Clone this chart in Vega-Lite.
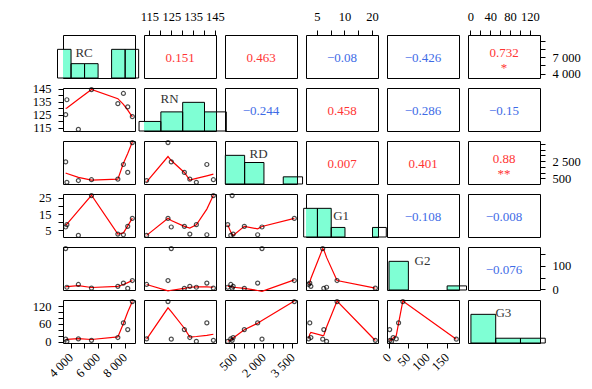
{
"$schema":"https://vega.github.io/schema/vega-lite/v6.json",
"background":"white",
"padding":{"left":31,"top":9,"right":5,"bottom":5},
"config":{
 "font":"Liberation Serif",
 "view":{"stroke":"black","strokeWidth":1},
 "axis":{"domain":false,"grid":false,"ticks":true,"tickColor":"black","tickSize":5,"tickWidth":1,"labelFont":"Liberation Serif","labelFontSize":12.5,"labelColor":"black","labelPadding":7,"labelOverlap":false,"labelFlush":false,"labelBound":false},
 "text":{"font":"Liberation Serif","fontSize":13}
},
"datasets":{
 "d":[
  {"RC":3640,"RN":125.0,"RD":1925,"G1":7.1,"G2":175,"G3":8,"RN_RC":129.7,"RD_RC":950,"G1_RC":8.2,"G2_RC":10,"G3_RC":7,"RD_RN":2045,"G1_RN":11,"G1_RD":7.4,"G2_RN":-5,"G2_RD":-10,"G2_G1":175,"G3_RN":101,"G3_RD":71,"G3_G1":20,"G3_G2":8},
  {"RC":3730,"RN":136.5,"RD":150,"G1":8.5,"G2":8,"G3":0.5,"RN_RC":130.2,"RD_RC":920,"G1_RC":8.9,"G2_RC":11,"G3_RC":7.5,"RD_RN":490,"G1_RN":8.5,"G1_RD":8.5,"G2_RN":10,"G2_RD":12,"G2_G1":137,"G3_RN":17,"G3_RD":1,"G3_G1":49,"G3_G2":5},
  {"RC":4580,"RN":113.7,"RD":310,"G1":2.0,"G2":20,"G3":9,"RN_RC":136.8,"RD_RC":580,"G1_RC":17,"G2_RC":15,"G3_RC":10,"RD_RN":199,"G1_RN":2.0,"G1_RD":4,"G2_RN":20,"G2_RD":12,"G2_G1":20,"G3_RN":8,"G3_RD":5,"G3_G1":11,"G3_G2":20},
  {"RC":5550,"RN":144.3,"RD":380,"G1":26.2,"G2":4,"G3":4,"RN_RC":144.4,"RD_RC":345,"G1_RC":26.4,"G2_RC":7,"G3_RC":7,"RD_RN":863,"G1_RN":26.4,"G1_RD":2.5,"G2_RN":8,"G2_RD":10,"G2_G1":4,"G3_RN":24.6,"G3_RD":8,"G3_G1":3.5,"G3_G2":5},
  {"RC":7500,"RN":133.5,"RD":431,"G1":2.8,"G2":12,"G3":13.6,"RN_RC":137.3,"RD_RC":431,"G1_RC":2.8,"G2_RC":12,"G3_RC":15.6,"RD_RN":345,"G1_RN":6.5,"G1_RD":2,"G2_RN":8,"G2_RD":8,"G2_G1":46,"G3_RN":15,"G3_RD":12,"G3_G1":31,"G3_G2":12},
  {"RC":7910,"RN":141.3,"RD":1700,"G1":2.4,"G2":26,"G3":63,"RN_RC":133,"RD_RC":1810,"G1_RC":3.5,"G2_RC":20,"G3_RC":61,"RD_RN":716,"G1_RN":18,"G1_RD":6,"G2_RN":10,"G2_RD":-6,"G2_G1":27,"G3_RN":21,"G3_RD":62,"G3_G1":25,"G3_G2":62},
  {"RC":8230,"RN":131,"RD":1010,"G1":7.5,"G2":3,"G3":40.5,"RN_RC":128.5,"RD_RC":2650,"G1_RC":7.8,"G2_RC":28,"G3_RC":100,"RD_RN":1010,"G1_RN":7.5,"G1_RD":7.5,"G2_RN":3,"G2_RD":3,"G2_G1":170,"G3_RN":45,"G3_RD":40,"G3_G1":21,"G3_G2":11},
  {"RC":8570,"RN":123.5,"RD":3600,"G1":12.3,"G2":37,"G3":135,"RN_RC":123.4,"RD_RC":3650,"G1_RC":12.5,"G2_RC":37,"G3_RC":135,"RD_RN":2390,"G1_RN":12.4,"G1_RD":12.4,"G2_RN":-8,"G2_RD":40,"G2_G1":37,"G3_RN":114,"G3_RD":137,"G3_G1":137,"G3_G2":137}
 ],
 "cor":[
  {"p":"RC_RN","r":"0.151","s":"","sg":"pos"},
  {"p":"RC_RD","r":"0.463","s":"","sg":"pos"},
  {"p":"RC_G1","r":"−0.08","s":"","sg":"neg"},
  {"p":"RC_G2","r":"−0.426","s":"","sg":"neg"},
  {"p":"RC_G3","r":"0.732","s":"*","sg":"pos"},
  {"p":"RN_RD","r":"−0.244","s":"","sg":"neg"},
  {"p":"RN_G1","r":"0.458","s":"","sg":"pos"},
  {"p":"RN_G2","r":"−0.286","s":"","sg":"neg"},
  {"p":"RN_G3","r":"−0.15","s":"","sg":"neg"},
  {"p":"RD_G1","r":"0.007","s":"","sg":"pos"},
  {"p":"RD_G2","r":"0.401","s":"","sg":"pos"},
  {"p":"RD_G3","r":"0.88","s":"**","sg":"pos"},
  {"p":"G1_G2","r":"−0.108","s":"","sg":"neg"},
  {"p":"G1_G3","r":"−0.008","s":"","sg":"neg"},
  {"p":"G2_G3","r":"−0.076","s":"","sg":"neg"}
 ],
 "vars":[{"v":"RC"},{"v":"RN"},{"v":"RD"},{"v":"G1"},{"v":"G2"},{"v":"G3"}]
},
"columns":6,
"spacing":{"row":10,"column":9},
"bounds":"flush",
"concat":[
 {"width":72,"height":43,"data":{"name":"d"},"layer":[
  {"mark":{"type":"bar","fill":"#7fffd4","strokeWidth":0,"binSpacing":0,"clip":true},"encoding":{"x":{"field":"RC","type":"quantitative","bin":{"extent":[3000,9000],"step":1000},"scale":{"domain":[3443,8767],"nice":false,"zero":false},"axis":null},"y":{"aggregate":"count","type":"quantitative","scale":{"domain":[0,3],"nice":false},"axis":null}}},
  {"mark":{"type":"bar","fillOpacity":0,"stroke":"black","strokeWidth":1,"binSpacing":0,"clip":false},"encoding":{"x":{"field":"RC","type":"quantitative","bin":{"extent":[3000,9000],"step":1000},"scale":{"domain":[3443,8767],"nice":false,"zero":false},"axis":null},"y":{"aggregate":"count","type":"quantitative","scale":{"domain":[0,3],"nice":false},"axis":null}}},
  {"data":{"name":"vars"},"transform":[{"filter":"datum.v == 'RC'"}],"mark":{"type":"text","fontSize":13,"color":"#333"},"encoding":{"x":{"datum":5000,"type":"quantitative"},"y":{"datum":1.72,"type":"quantitative"},"text":{"field":"v","type":"nominal"}}}
 ]},
 {"width":72,"height":43,"data":{"name":"cor"},"transform":[{"filter":"datum.p == 'RC_RN'"}],"mark":{"type":"text","fontSize":13,"dy":1},"encoding":{"x":{"datum":129,"type":"quantitative","scale":{"domain":[112.5,145.5],"nice":false,"zero":false},"axis":{"orient":"top","title":null,"values":[115,120,125,130,135,140,145],"labelExpr":"datum.value % 10 == 5 ? datum.label : ''"}},"y":{"datum":6105,"type":"quantitative","scale":{"domain":[3443,8767],"nice":false,"zero":false},"axis":null},"text":{"field":"r","type":"nominal"},"color":{"field":"sg","type":"nominal","scale":{"domain":["pos","neg"],"range":["#ff3434","#3e6be6"]},"legend":null}}},
 {"width":72,"height":43,"data":{"name":"cor"},"transform":[{"filter":"datum.p == 'RC_RD'"}],"mark":{"type":"text","fontSize":13,"dy":1},"encoding":{"x":{"datum":0.5,"type":"quantitative","scale":{"domain":[0,1]},"axis":null},"y":{"datum":0.5,"type":"quantitative","scale":{"domain":[0,1]},"axis":null},"text":{"field":"r","type":"nominal"},"color":{"field":"sg","type":"nominal","scale":{"domain":["pos","neg"],"range":["#ff3434","#3e6be6"]},"legend":null}}},
 {"width":72,"height":43,"data":{"name":"cor"},"transform":[{"filter":"datum.p == 'RC_G1'"}],"mark":{"type":"text","fontSize":13,"dy":1},"encoding":{"x":{"datum":14.1,"type":"quantitative","scale":{"domain":[1.03,27.17],"nice":false,"zero":false},"axis":{"orient":"top","title":null,"values":[5,10,15,20,25],"labelExpr":"datum.value == 5 ? '5' : datum.value == 15 ? '10' : datum.value == 25 ? '20' : ''"}},"y":{"datum":0.5,"type":"quantitative","scale":{"domain":[0,1]},"axis":null},"text":{"field":"r","type":"nominal"},"color":{"field":"sg","type":"nominal","scale":{"domain":["pos","neg"],"range":["#ff3434","#3e6be6"]},"legend":null}}},
 {"width":72,"height":43,"data":{"name":"cor"},"transform":[{"filter":"datum.p == 'RC_G2'"}],"mark":{"type":"text","fontSize":13,"dy":1},"encoding":{"x":{"datum":0.5,"type":"quantitative","scale":{"domain":[0,1]},"axis":null},"y":{"datum":0.5,"type":"quantitative","scale":{"domain":[0,1]},"axis":null},"text":{"field":"r","type":"nominal"},"color":{"field":"sg","type":"nominal","scale":{"domain":["pos","neg"],"range":["#ff3434","#3e6be6"]},"legend":null}}},
 {"width":72,"height":43,"data":{"name":"cor"},"transform":[{"filter":"datum.p == 'RC_G3'"}],
  "encoding":{"x":{"datum":67.75,"type":"quantitative","scale":{"domain":[-4.9,140.4],"nice":false,"zero":false},"axis":{"orient":"top","title":null,"values":[0,20,40,60,80,100,120],"labelExpr":"datum.value % 40 == 0 ? datum.label : ''"}},"y":{"datum":6105,"type":"quantitative","scale":{"domain":[3443,8767],"nice":false,"zero":false},"axis":{"orient":"right","title":null,"values":[4000,5000,6000,7000,8000],"labelExpr":"datum.value == 4000 ? '4 000' : datum.value == 6000 ? '7 000' : ''"}},"color":{"field":"sg","type":"nominal","scale":{"domain":["pos","neg"],"range":["#ff3434","#3e6be6"]},"legend":null}},
  "layer":[
   {"mark":{"type":"text","fontSize":13,"dy":-4},"encoding":{"text":{"field":"r","type":"nominal"}}},
   {"mark":{"type":"text","fontSize":13,"dy":11},"encoding":{"text":{"field":"s","type":"nominal"}}}
  ]},

 {"width":72,"height":43,"data":{"name":"d"},"encoding":{"x":{"field":"RC","type":"quantitative","scale":{"domain":[3443,8767],"nice":false,"zero":false},"axis":null}},"layer":[
  {"mark":{"type":"line","color":"#ff0000","strokeWidth":1.2},"encoding":{"y":{"field":"RN_RC","type":"quantitative","scale":{"domain":[112.5,145.5],"nice":false,"zero":false},"axis":{"orient":"left","title":null,"values":[115,120,125,130,135,140,145],"labelExpr":"datum.value % 10 == 5 ? datum.label : ''"}}}},
  {"mark":{"type":"point","shape":"circle","color":"black","size":16,"strokeWidth":1.2},"encoding":{"y":{"field":"RN","type":"quantitative","scale":{"domain":[112.5,145.5],"nice":false,"zero":false},"axis":{"orient":"left","title":null,"values":[115,120,125,130,135,140,145],"labelExpr":"datum.value % 10 == 5 ? datum.label : ''"}}}}
 ]},
 {"width":72,"height":43,"data":{"name":"d"},"layer":[
  {"mark":{"type":"bar","fill":"#7fffd4","strokeWidth":0,"binSpacing":0,"clip":true},"encoding":{"x":{"field":"RN","type":"quantitative","bin":{"extent":[110,150],"step":10},"scale":{"domain":[112.5,145.5],"nice":false,"zero":false},"axis":null},"y":{"aggregate":"count","type":"quantitative","scale":{"domain":[0,4.5],"nice":false},"axis":null}}},
  {"mark":{"type":"bar","fillOpacity":0,"stroke":"black","strokeWidth":1,"binSpacing":0,"clip":false},"encoding":{"x":{"field":"RN","type":"quantitative","bin":{"extent":[110,150],"step":10},"scale":{"domain":[112.5,145.5],"nice":false,"zero":false},"axis":null},"y":{"aggregate":"count","type":"quantitative","scale":{"domain":[0,4.5],"nice":false},"axis":null}}},
  {"data":{"name":"vars"},"transform":[{"filter":"datum.v == 'RN'"}],"mark":{"type":"text","fontSize":13,"color":"#333"},"encoding":{"x":{"datum":124.2,"type":"quantitative"},"y":{"datum":3.3,"type":"quantitative"},"text":{"field":"v","type":"nominal"}}}
 ]},
 {"width":72,"height":43,"data":{"name":"cor"},"transform":[{"filter":"datum.p == 'RN_RD'"}],"mark":{"type":"text","fontSize":13,"dy":1},"encoding":{"x":{"datum":0.5,"type":"quantitative","scale":{"domain":[0,1]},"axis":null},"y":{"datum":0.5,"type":"quantitative","scale":{"domain":[0,1]},"axis":null},"text":{"field":"r","type":"nominal"},"color":{"field":"sg","type":"nominal","scale":{"domain":["pos","neg"],"range":["#ff3434","#3e6be6"]},"legend":null}}},
 {"width":72,"height":43,"data":{"name":"cor"},"transform":[{"filter":"datum.p == 'RN_G1'"}],"mark":{"type":"text","fontSize":13,"dy":1},"encoding":{"x":{"datum":0.5,"type":"quantitative","scale":{"domain":[0,1]},"axis":null},"y":{"datum":0.5,"type":"quantitative","scale":{"domain":[0,1]},"axis":null},"text":{"field":"r","type":"nominal"},"color":{"field":"sg","type":"nominal","scale":{"domain":["pos","neg"],"range":["#ff3434","#3e6be6"]},"legend":null}}},
 {"width":72,"height":43,"data":{"name":"cor"},"transform":[{"filter":"datum.p == 'RN_G2'"}],"mark":{"type":"text","fontSize":13,"dy":1},"encoding":{"x":{"datum":0.5,"type":"quantitative","scale":{"domain":[0,1]},"axis":null},"y":{"datum":0.5,"type":"quantitative","scale":{"domain":[0,1]},"axis":null},"text":{"field":"r","type":"nominal"},"color":{"field":"sg","type":"nominal","scale":{"domain":["pos","neg"],"range":["#ff3434","#3e6be6"]},"legend":null}}},
 {"width":72,"height":43,"data":{"name":"cor"},"transform":[{"filter":"datum.p == 'RN_G3'"}],"mark":{"type":"text","fontSize":13,"dy":1},"encoding":{"x":{"datum":0.5,"type":"quantitative","scale":{"domain":[0,1]},"axis":null},"y":{"datum":0.5,"type":"quantitative","scale":{"domain":[0,1]},"axis":null},"text":{"field":"r","type":"nominal"},"color":{"field":"sg","type":"nominal","scale":{"domain":["pos","neg"],"range":["#ff3434","#3e6be6"]},"legend":null}}},

 {"width":72,"height":43,"data":{"name":"d"},"encoding":{"x":{"field":"RC","type":"quantitative","scale":{"domain":[3443,8767],"nice":false,"zero":false},"axis":null}},"layer":[
  {"mark":{"type":"line","color":"#ff0000","strokeWidth":1.2},"encoding":{"y":{"field":"RD_RC","type":"quantitative","scale":{"domain":[9,3738],"nice":false,"zero":false},"axis":null}}},
  {"mark":{"type":"point","shape":"circle","color":"black","size":16,"strokeWidth":1.2},"encoding":{"y":{"field":"RD","type":"quantitative","scale":{"domain":[9,3738],"nice":false,"zero":false},"axis":null}}}
 ]},
 {"width":72,"height":43,"data":{"name":"d"},"encoding":{"x":{"field":"RN","type":"quantitative","scale":{"domain":[112.5,145.5],"nice":false,"zero":false},"axis":null}},"layer":[
  {"mark":{"type":"line","color":"#ff0000","strokeWidth":1.2},"encoding":{"y":{"field":"RD_RN","type":"quantitative","scale":{"domain":[9,3738],"nice":false,"zero":false},"axis":null}}},
  {"mark":{"type":"point","shape":"circle","color":"black","size":16,"strokeWidth":1.2},"encoding":{"y":{"field":"RD","type":"quantitative","scale":{"domain":[9,3738],"nice":false,"zero":false},"axis":null}}}
 ]},
 {"width":72,"height":43,"data":{"name":"d"},"layer":[
  {"mark":{"type":"bar","fill":"#7fffd4","strokeWidth":0,"binSpacing":0,"clip":true},"encoding":{"x":{"field":"RD","type":"quantitative","bin":{"extent":[0,4000],"step":1000},"scale":{"domain":[9,3738],"nice":false,"zero":false},"axis":null},"y":{"aggregate":"count","type":"quantitative","scale":{"domain":[0,6],"nice":false},"axis":null}}},
  {"mark":{"type":"bar","fillOpacity":0,"stroke":"black","strokeWidth":1,"binSpacing":0,"clip":false},"encoding":{"x":{"field":"RD","type":"quantitative","bin":{"extent":[0,4000],"step":1000},"scale":{"domain":[9,3738],"nice":false,"zero":false},"axis":null},"y":{"aggregate":"count","type":"quantitative","scale":{"domain":[0,6],"nice":false},"axis":null}}},
  {"data":{"name":"vars"},"transform":[{"filter":"datum.v == 'RD'"}],"mark":{"type":"text","fontSize":13,"color":"#333"},"encoding":{"x":{"datum":1747,"type":"quantitative"},"y":{"datum":4.15,"type":"quantitative"},"text":{"field":"v","type":"nominal"}}}
 ]},
 {"width":72,"height":43,"data":{"name":"cor"},"transform":[{"filter":"datum.p == 'RD_G1'"}],"mark":{"type":"text","fontSize":13,"dy":1},"encoding":{"x":{"datum":0.5,"type":"quantitative","scale":{"domain":[0,1]},"axis":null},"y":{"datum":0.5,"type":"quantitative","scale":{"domain":[0,1]},"axis":null},"text":{"field":"r","type":"nominal"},"color":{"field":"sg","type":"nominal","scale":{"domain":["pos","neg"],"range":["#ff3434","#3e6be6"]},"legend":null}}},
 {"width":72,"height":43,"data":{"name":"cor"},"transform":[{"filter":"datum.p == 'RD_G2'"}],"mark":{"type":"text","fontSize":13,"dy":1},"encoding":{"x":{"datum":0.5,"type":"quantitative","scale":{"domain":[0,1]},"axis":null},"y":{"datum":0.5,"type":"quantitative","scale":{"domain":[0,1]},"axis":null},"text":{"field":"r","type":"nominal"},"color":{"field":"sg","type":"nominal","scale":{"domain":["pos","neg"],"range":["#ff3434","#3e6be6"]},"legend":null}}},
 {"width":72,"height":43,"data":{"name":"cor"},"transform":[{"filter":"datum.p == 'RD_G3'"}],
  "encoding":{"x":{"datum":0.5,"type":"quantitative","scale":{"domain":[0,1]},"axis":null},"y":{"datum":1873,"type":"quantitative","scale":{"domain":[9,3738],"nice":false,"zero":false},"axis":{"orient":"right","title":null,"values":[500,1000,1500,2000,2500,3000,3500],"labelExpr":"datum.value == 500 ? '500' : datum.value == 2000 ? '2 500' : ''"}},"color":{"field":"sg","type":"nominal","scale":{"domain":["pos","neg"],"range":["#ff3434","#3e6be6"]},"legend":null}},
  "layer":[
   {"mark":{"type":"text","fontSize":13,"dy":-4},"encoding":{"text":{"field":"r","type":"nominal"}}},
   {"mark":{"type":"text","fontSize":13,"dy":11},"encoding":{"text":{"field":"s","type":"nominal"}}}
  ]},

 {"width":72,"height":43,"data":{"name":"d"},"encoding":{"x":{"field":"RC","type":"quantitative","scale":{"domain":[3443,8767],"nice":false,"zero":false},"axis":null}},"layer":[
  {"mark":{"type":"line","color":"#ff0000","strokeWidth":1.2},"encoding":{"y":{"field":"G1_RC","type":"quantitative","scale":{"domain":[1.03,27.17],"nice":false,"zero":false},"axis":{"orient":"left","title":null,"values":[5,10,15,20,25],"labelExpr":"datum.value % 10 == 5 ? datum.label : ''"}}}},
  {"mark":{"type":"point","shape":"circle","color":"black","size":16,"strokeWidth":1.2},"encoding":{"y":{"field":"G1","type":"quantitative","scale":{"domain":[1.03,27.17],"nice":false,"zero":false},"axis":{"orient":"left","title":null,"values":[5,10,15,20,25],"labelExpr":"datum.value % 10 == 5 ? datum.label : ''"}}}}
 ]},
 {"width":72,"height":43,"data":{"name":"d"},"encoding":{"x":{"field":"RN","type":"quantitative","scale":{"domain":[112.5,145.5],"nice":false,"zero":false},"axis":null}},"layer":[
  {"mark":{"type":"line","color":"#ff0000","strokeWidth":1.2},"encoding":{"y":{"field":"G1_RN","type":"quantitative","scale":{"domain":[1.03,27.17],"nice":false,"zero":false},"axis":null}}},
  {"mark":{"type":"point","shape":"circle","color":"black","size":16,"strokeWidth":1.2},"encoding":{"y":{"field":"G1","type":"quantitative","scale":{"domain":[1.03,27.17],"nice":false,"zero":false},"axis":null}}}
 ]},
 {"width":72,"height":43,"data":{"name":"d"},"encoding":{"x":{"field":"RD","type":"quantitative","scale":{"domain":[9,3738],"nice":false,"zero":false},"axis":null}},"layer":[
  {"mark":{"type":"line","color":"#ff0000","strokeWidth":1.2},"encoding":{"y":{"field":"G1_RD","type":"quantitative","scale":{"domain":[1.03,27.17],"nice":false,"zero":false},"axis":null}}},
  {"mark":{"type":"point","shape":"circle","color":"black","size":16,"strokeWidth":1.2},"encoding":{"y":{"field":"G1","type":"quantitative","scale":{"domain":[1.03,27.17],"nice":false,"zero":false},"axis":null}}}
 ]},
 {"width":72,"height":43,"data":{"name":"d"},"layer":[
  {"mark":{"type":"bar","fill":"#7fffd4","strokeWidth":0,"binSpacing":0,"clip":true},"encoding":{"x":{"field":"G1","type":"quantitative","bin":{"extent":[0,30],"step":5},"scale":{"domain":[1.03,27.17],"nice":false,"zero":false},"axis":null},"y":{"aggregate":"count","type":"quantitative","scale":{"domain":[0,4.5],"nice":false},"axis":null}}},
  {"mark":{"type":"bar","fillOpacity":0,"stroke":"black","strokeWidth":1,"binSpacing":0,"clip":false},"encoding":{"x":{"field":"G1","type":"quantitative","bin":{"extent":[0,30],"step":5},"scale":{"domain":[1.03,27.17],"nice":false,"zero":false},"axis":null},"y":{"aggregate":"count","type":"quantitative","scale":{"domain":[0,4.5],"nice":false},"axis":null}}},
  {"data":{"name":"vars"},"transform":[{"filter":"datum.v == 'G1'"}],"mark":{"type":"text","fontSize":13,"color":"#333"},"encoding":{"x":{"datum":13.8,"type":"quantitative"},"y":{"datum":2.25,"type":"quantitative"},"text":{"field":"v","type":"nominal"}}}
 ]},
 {"width":72,"height":43,"data":{"name":"cor"},"transform":[{"filter":"datum.p == 'G1_G2'"}],"mark":{"type":"text","fontSize":13,"dy":1},"encoding":{"x":{"datum":0.5,"type":"quantitative","scale":{"domain":[0,1]},"axis":null},"y":{"datum":0.5,"type":"quantitative","scale":{"domain":[0,1]},"axis":null},"text":{"field":"r","type":"nominal"},"color":{"field":"sg","type":"nominal","scale":{"domain":["pos","neg"],"range":["#ff3434","#3e6be6"]},"legend":null}}},
 {"width":72,"height":43,"data":{"name":"cor"},"transform":[{"filter":"datum.p == 'G1_G3'"}],"mark":{"type":"text","fontSize":13,"dy":1},"encoding":{"x":{"datum":0.5,"type":"quantitative","scale":{"domain":[0,1]},"axis":null},"y":{"datum":0.5,"type":"quantitative","scale":{"domain":[0,1]},"axis":null},"text":{"field":"r","type":"nominal"},"color":{"field":"sg","type":"nominal","scale":{"domain":["pos","neg"],"range":["#ff3434","#3e6be6"]},"legend":null}}},

 {"width":72,"height":43,"data":{"name":"d"},"encoding":{"x":{"field":"RC","type":"quantitative","scale":{"domain":[3443,8767],"nice":false,"zero":false},"axis":null}},"layer":[
  {"mark":{"type":"line","color":"#ff0000","strokeWidth":1.2},"encoding":{"y":{"field":"G2_RC","type":"quantitative","scale":{"domain":[-3.9,181.9],"nice":false,"zero":false},"axis":null}}},
  {"mark":{"type":"point","shape":"circle","color":"black","size":16,"strokeWidth":1.2},"encoding":{"y":{"field":"G2","type":"quantitative","scale":{"domain":[-3.9,181.9],"nice":false,"zero":false},"axis":null}}}
 ]},
 {"width":72,"height":43,"data":{"name":"d"},"encoding":{"x":{"field":"RN","type":"quantitative","scale":{"domain":[112.5,145.5],"nice":false,"zero":false},"axis":null}},"layer":[
  {"mark":{"type":"line","color":"#ff0000","strokeWidth":1.2},"encoding":{"y":{"field":"G2_RN","type":"quantitative","scale":{"domain":[-3.9,181.9],"nice":false,"zero":false},"axis":null}}},
  {"mark":{"type":"point","shape":"circle","color":"black","size":16,"strokeWidth":1.2},"encoding":{"y":{"field":"G2","type":"quantitative","scale":{"domain":[-3.9,181.9],"nice":false,"zero":false},"axis":null}}}
 ]},
 {"width":72,"height":43,"data":{"name":"d"},"encoding":{"x":{"field":"RD","type":"quantitative","scale":{"domain":[9,3738],"nice":false,"zero":false},"axis":null}},"layer":[
  {"mark":{"type":"line","color":"#ff0000","strokeWidth":1.2},"encoding":{"y":{"field":"G2_RD","type":"quantitative","scale":{"domain":[-3.9,181.9],"nice":false,"zero":false},"axis":null}}},
  {"mark":{"type":"point","shape":"circle","color":"black","size":16,"strokeWidth":1.2},"encoding":{"y":{"field":"G2","type":"quantitative","scale":{"domain":[-3.9,181.9],"nice":false,"zero":false},"axis":null}}}
 ]},
 {"width":72,"height":43,"data":{"name":"d"},"encoding":{"x":{"field":"G1","type":"quantitative","scale":{"domain":[1.03,27.17],"nice":false,"zero":false},"axis":null}},"layer":[
  {"mark":{"type":"line","color":"#ff0000","strokeWidth":1.2},"encoding":{"y":{"field":"G2_G1","type":"quantitative","scale":{"domain":[-3.9,181.9],"nice":false,"zero":false},"axis":null}}},
  {"mark":{"type":"point","shape":"circle","color":"black","size":16,"strokeWidth":1.2},"encoding":{"y":{"field":"G2","type":"quantitative","scale":{"domain":[-3.9,181.9],"nice":false,"zero":false},"axis":null}}}
 ]},
 {"width":72,"height":43,"data":{"name":"d"},"layer":[
  {"mark":{"type":"bar","fill":"#7fffd4","strokeWidth":0,"binSpacing":0,"clip":true},"encoding":{"x":{"field":"G2","type":"quantitative","bin":{"extent":[0,200],"step":50},"scale":{"domain":[-3.9,181.9],"nice":false,"zero":false},"axis":null},"y":{"aggregate":"count","type":"quantitative","scale":{"domain":[0,10.5],"nice":false},"axis":null}}},
  {"mark":{"type":"bar","fillOpacity":0,"stroke":"black","strokeWidth":1,"binSpacing":0,"clip":false},"encoding":{"x":{"field":"G2","type":"quantitative","bin":{"extent":[0,200],"step":50},"scale":{"domain":[-3.9,181.9],"nice":false,"zero":false},"axis":null},"y":{"aggregate":"count","type":"quantitative","scale":{"domain":[0,10.5],"nice":false},"axis":null}}},
  {"data":{"name":"vars"},"transform":[{"filter":"datum.v == 'G2'"}],"mark":{"type":"text","fontSize":13,"color":"#333"},"encoding":{"x":{"datum":87.6,"type":"quantitative"},"y":{"datum":7,"type":"quantitative"},"text":{"field":"v","type":"nominal"}}}
 ]},
 {"width":72,"height":43,"data":{"name":"cor"},"transform":[{"filter":"datum.p == 'G2_G3'"}],"mark":{"type":"text","fontSize":13,"dy":1},"encoding":{"x":{"datum":0.5,"type":"quantitative","scale":{"domain":[0,1]},"axis":null},"y":{"datum":89,"type":"quantitative","scale":{"domain":[-3.9,181.9],"nice":false,"zero":false},"axis":{"orient":"right","title":null,"values":[0,50,100,150],"labelExpr":"datum.value % 100 == 0 ? datum.label : ''"}},"text":{"field":"r","type":"nominal"},"color":{"field":"sg","type":"nominal","scale":{"domain":["pos","neg"],"range":["#ff3434","#3e6be6"]},"legend":null}}},

 {"width":72,"height":43,"data":{"name":"d"},"encoding":{"x":{"field":"RC","type":"quantitative","scale":{"domain":[3443,8767],"nice":false,"zero":false},"axis":{"orient":"bottom","title":null,"values":[4000,5000,6000,7000,8000],"labelExpr":"datum.value % 2000 == 0 ? replace(format(datum.value, ','), ',', ' ') : ''","labelAngle":-45,"labelAlign":"right","labelBaseline":"middle"}}},"layer":[
  {"mark":{"type":"line","color":"#ff0000","strokeWidth":1.2},"encoding":{"y":{"field":"G3_RC","type":"quantitative","scale":{"domain":[-4.9,140.4],"nice":false,"zero":false},"axis":{"orient":"left","title":null,"values":[0,20,40,60,80,100,120],"labelExpr":"datum.value % 60 == 0 ? datum.label : ''"}}}},
  {"mark":{"type":"point","shape":"circle","color":"black","size":16,"strokeWidth":1.2},"encoding":{"y":{"field":"G3","type":"quantitative","scale":{"domain":[-4.9,140.4],"nice":false,"zero":false},"axis":{"orient":"left","title":null,"values":[0,20,40,60,80,100,120],"labelExpr":"datum.value % 60 == 0 ? datum.label : ''"}}}}
 ]},
 {"width":72,"height":43,"data":{"name":"d"},"encoding":{"x":{"field":"RN","type":"quantitative","scale":{"domain":[112.5,145.5],"nice":false,"zero":false},"axis":null}},"layer":[
  {"mark":{"type":"line","color":"#ff0000","strokeWidth":1.2},"encoding":{"y":{"field":"G3_RN","type":"quantitative","scale":{"domain":[-4.9,140.4],"nice":false,"zero":false},"axis":null}}},
  {"mark":{"type":"point","shape":"circle","color":"black","size":16,"strokeWidth":1.2},"encoding":{"y":{"field":"G3","type":"quantitative","scale":{"domain":[-4.9,140.4],"nice":false,"zero":false},"axis":null}}}
 ]},
 {"width":72,"height":43,"data":{"name":"d"},"encoding":{"x":{"field":"RD","type":"quantitative","scale":{"domain":[9,3738],"nice":false,"zero":false},"axis":{"orient":"bottom","title":null,"values":[500,1000,1500,2000,2500,3000,3500],"labelExpr":"datum.value % 1500 == 500 ? replace(format(datum.value, ','), ',', ' ') : ''","labelAngle":-45,"labelAlign":"right","labelBaseline":"middle"}}},"layer":[
  {"mark":{"type":"line","color":"#ff0000","strokeWidth":1.2},"encoding":{"y":{"field":"G3_RD","type":"quantitative","scale":{"domain":[-4.9,140.4],"nice":false,"zero":false},"axis":null}}},
  {"mark":{"type":"point","shape":"circle","color":"black","size":16,"strokeWidth":1.2},"encoding":{"y":{"field":"G3","type":"quantitative","scale":{"domain":[-4.9,140.4],"nice":false,"zero":false},"axis":null}}}
 ]},
 {"width":72,"height":43,"data":{"name":"d"},"encoding":{"x":{"field":"G1","type":"quantitative","scale":{"domain":[1.03,27.17],"nice":false,"zero":false},"axis":null}},"layer":[
  {"mark":{"type":"line","color":"#ff0000","strokeWidth":1.2},"encoding":{"y":{"field":"G3_G1","type":"quantitative","scale":{"domain":[-4.9,140.4],"nice":false,"zero":false},"axis":null}}},
  {"mark":{"type":"point","shape":"circle","color":"black","size":16,"strokeWidth":1.2},"encoding":{"y":{"field":"G3","type":"quantitative","scale":{"domain":[-4.9,140.4],"nice":false,"zero":false},"axis":null}}}
 ]},
 {"width":72,"height":43,"data":{"name":"d"},"encoding":{"x":{"field":"G2","type":"quantitative","scale":{"domain":[-3.9,181.9],"nice":false,"zero":false},"axis":{"orient":"bottom","title":null,"values":[0,50,100,150],"labelAngle":-45,"labelAlign":"right","labelBaseline":"middle"}}},"layer":[
  {"mark":{"type":"line","color":"#ff0000","strokeWidth":1.2},"encoding":{"y":{"field":"G3_G2","type":"quantitative","scale":{"domain":[-4.9,140.4],"nice":false,"zero":false},"axis":null}}},
  {"mark":{"type":"point","shape":"circle","color":"black","size":16,"strokeWidth":1.2},"encoding":{"y":{"field":"G3","type":"quantitative","scale":{"domain":[-4.9,140.4],"nice":false,"zero":false},"axis":null}}}
 ]},
 {"width":72,"height":43,"data":{"name":"d"},"layer":[
  {"mark":{"type":"bar","fill":"#7fffd4","strokeWidth":0,"binSpacing":0,"clip":true},"encoding":{"x":{"field":"G3","type":"quantitative","bin":{"extent":[0,150],"step":50},"scale":{"domain":[-4.9,140.4],"nice":false,"zero":false},"axis":null},"y":{"aggregate":"count","type":"quantitative","scale":{"domain":[0,9],"nice":false},"axis":null}}},
  {"mark":{"type":"bar","fillOpacity":0,"stroke":"black","strokeWidth":1,"binSpacing":0,"clip":false},"encoding":{"x":{"field":"G3","type":"quantitative","bin":{"extent":[0,150],"step":50},"scale":{"domain":[-4.9,140.4],"nice":false,"zero":false},"axis":null},"y":{"aggregate":"count","type":"quantitative","scale":{"domain":[0,9],"nice":false},"axis":null}}},
  {"data":{"name":"vars"},"transform":[{"filter":"datum.v == 'G3'"}],"mark":{"type":"text","fontSize":13,"color":"#333"},"encoding":{"x":{"datum":66.5,"type":"quantitative"},"y":{"datum":6.2,"type":"quantitative"},"text":{"field":"v","type":"nominal"}}}
 ]}
]
}
